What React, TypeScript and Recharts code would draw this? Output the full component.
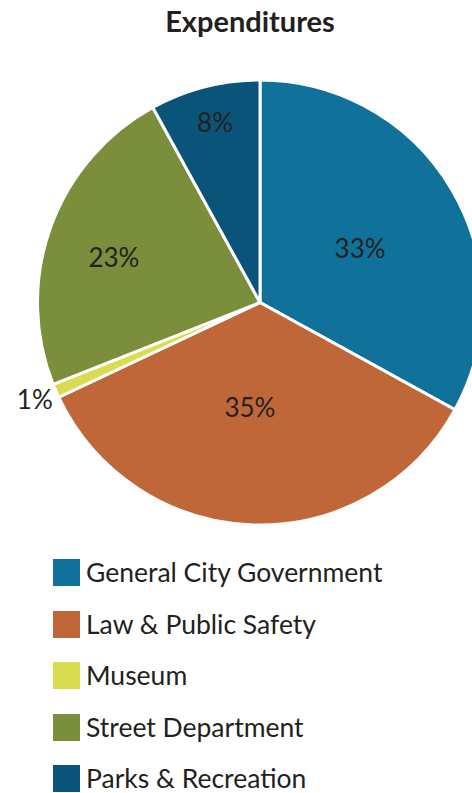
import React from "react";
import { PieChart, Pie, Cell, Legend } from "recharts";

const categories = [
  "General City Government",
  "Law & Public Safety",
  "Museum",
  "Street Department",
  "Parks & Recreation",
];
const shares = [33, 35, 1, 23, 8];
const colors = ["#10719a", "#c0673a", "#d9db51", "#7a8e3b", "#0b5479"];
// label placement tweaks (radius px, angle shift deg) - styling only
const labelPlacement = [
  { r: 114, da: 2 },
  { r: 105, da: 3.7 },
  { r: 245, da: 0.2 },
  { r: 153, da: -2.5 },
  { r: 186, da: 0.4 },
];

const data = categories.map((name, i) => ({ name, value: shares[i] }));
const FONT = "Lato, 'Noto Sans', sans-serif";
const RAD = Math.PI / 180;

const renderLabel = (props: any) => {
  const { cx, cy, midAngle, index, value } = props;
  const p = labelPlacement[index];
  const a = (midAngle - p.da) * RAD;
  const x = cx + p.r * Math.cos(a);
  const y = cy - p.r * Math.sin(a);
  return (
    <text
      x={x}
      y={y}
      textAnchor="middle"
      dominantBaseline="central"
      fill="#231f20"
      fontFamily={FONT}
      fontSize={26}
    >
      {value}%
    </text>
  );
};

const renderLegend = () => {
  return (
    <div>
      {categories.map((name, i) => (
        <div
          key={name}
          style={{
            display: "flex",
            alignItems: "center",
            height: 27,
            marginBottom: 24.5,
          }}
        >
          <div style={{ width: 27, height: 27, background: colors[i] }} />
          <span
            style={{
              marginLeft: 6,
              fontFamily: FONT,
              fontSize: 26.5,
              color: "#231f20",
              whiteSpace: "nowrap",
              lineHeight: "27px",
            }}
          >
            {name}
          </span>
        </div>
      ))}
    </div>
  );
};

export default function App() {
  return (
    <div
      style={{
        position: "absolute",
        left: 0,
        top: 0,
        width: 472,
        height: 793,
        background: "#fff",
        overflow: "hidden",
      }}
    >
      <div
        style={{
          position: "absolute",
          left: 0,
          width: 472,
          top: 3,
          textAlign: "center",
          fontFamily: FONT,
          fontWeight: 700,
          fontSize: 29,
          color: "#231f20",
          transform: "translateX(14px)",
        }}
      >
        Expenditures
      </div>
      <PieChart width={472} height={793} margin={{ top: 0, right: 0, bottom: 0, left: 0 }}>
        <Pie
          data={data}
          dataKey="value"
          nameKey="name"
          cx={260}
          cy={302.5}
          outerRadius={222.5}
          startAngle={90}
          endAngle={-270}
          stroke="#ffffff"
          strokeWidth={3}
          label={renderLabel}
          labelLine={false}
          isAnimationActive={false}
        >
          {data.map((d, i) => (
            <Cell key={d.name} fill={colors[i]} />
          ))}
        </Pie>
        <Legend
          content={renderLegend}
          wrapperStyle={{ position: "absolute", left: 53, top: 559, width: 420 }}
        />
      </PieChart>
    </div>
  );
}
